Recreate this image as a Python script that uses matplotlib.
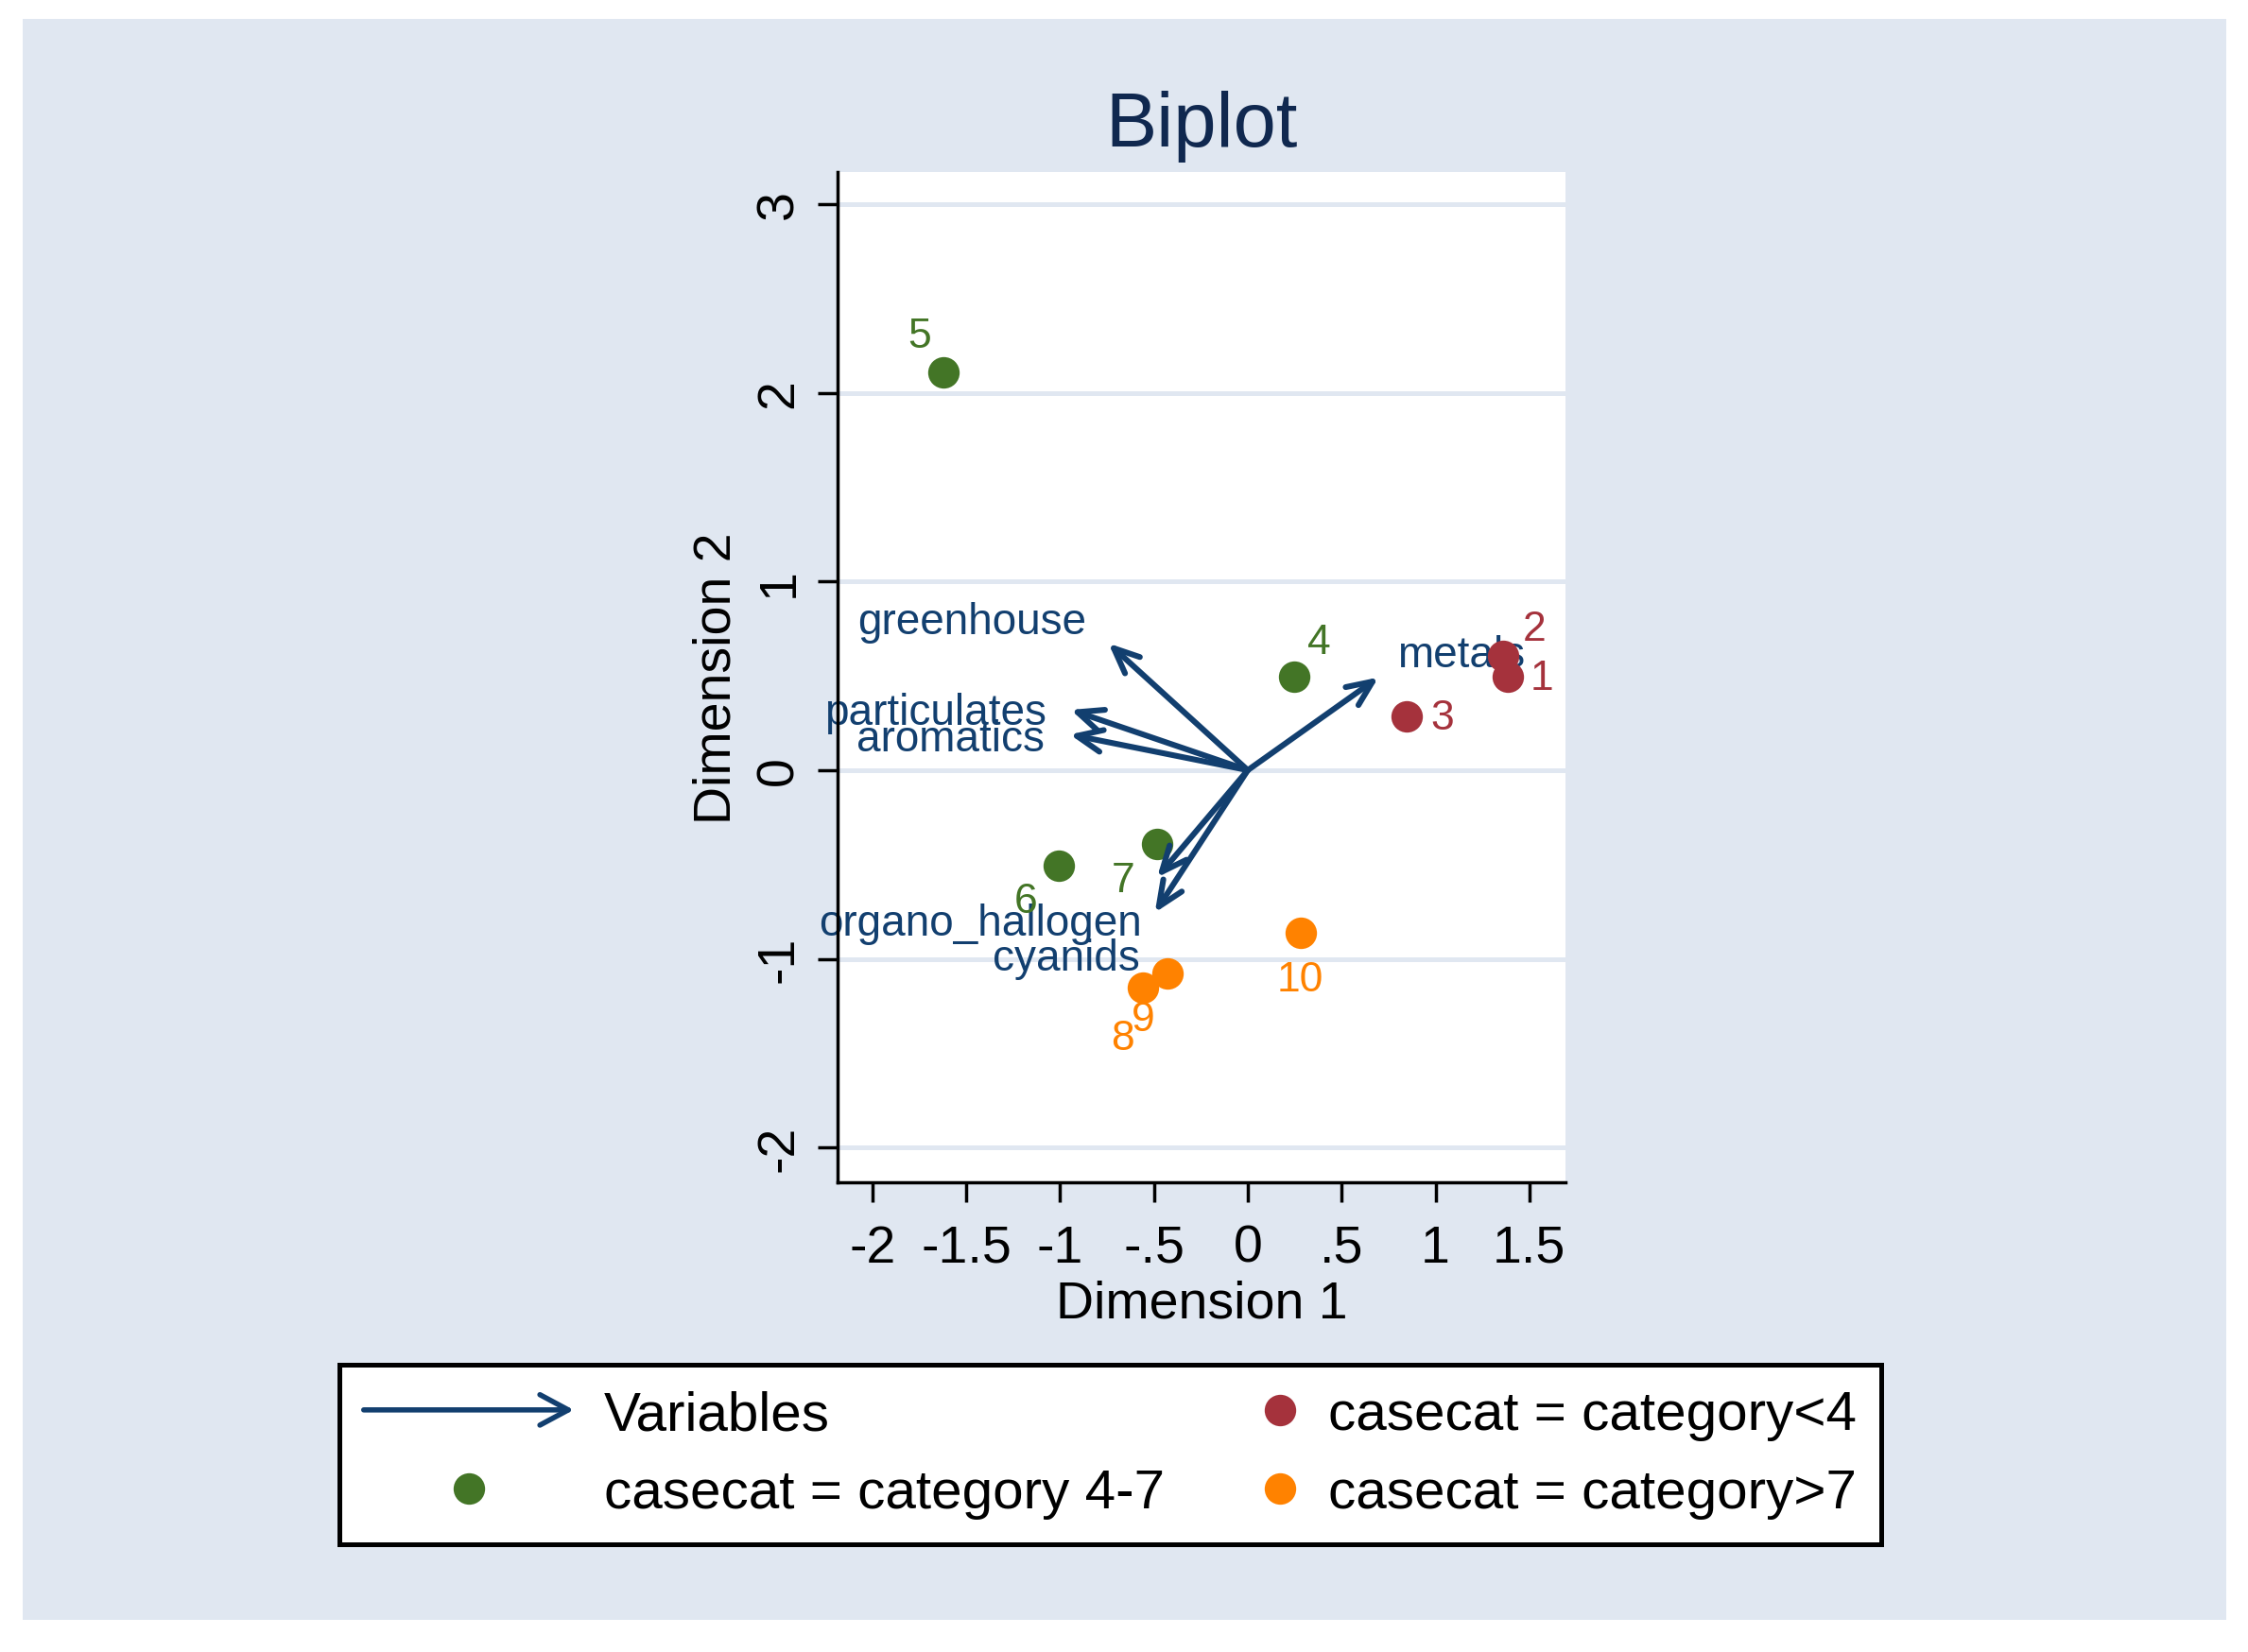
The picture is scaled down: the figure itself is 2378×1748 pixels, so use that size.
import numpy as np
import matplotlib.pyplot as plt
from matplotlib.lines import Line2D
from matplotlib.patches import FancyArrowPatch, Rectangle
from matplotlib.legend_handler import HandlerBase

plt.rcParams['font.family'] = ['Liberation Sans', 'DejaVu Sans']

# observation scores
obs_id = ['1', '2', '3', '4', '5', '6', '7', '8', '9', '10']
dim1 = [1.385, 1.36, 0.847, 0.247, -1.62, -1.007, -0.483, -0.559, -0.428, 0.28]
dim2 = [0.497, 0.605, 0.286, 0.497, 2.11, -0.506, -0.392, -1.151, -1.075, -0.861]
casecat = ['category<4'] * 3 + ['category 4-7'] * 4 + ['category>7'] * 3

# variable loadings
var_names = ['greenhouse', 'particulates', 'aromatics', 'metals',
             'organo_hallogen', 'cyanids']
load1 = [-0.742, -0.943, -0.948, 0.696, -0.483, -0.495]
load2 = [0.672, 0.32, 0.189, 0.492, -0.568, -0.755]

xticks = [-2, -1.5, -1, -0.5, 0, 0.5, 1, 1.5]
xticklabels = ['-2', '-1.5', '-1', '-.5', '0', '.5', '1', '1.5']
yticks = [-2, -1, 0, 1, 2, 3]
yticklabels = ['-2', '-1', '0', '1', '2', '3']

cat_order = ['category<4', 'category 4-7', 'category>7']

# styling
navy = '#123f6f'
bg = '#e0e7f1'
cat_colors = {'category<4': '#a5323c', 'category 4-7': '#437526',
              'category>7': '#ff8200'}
# marker label offsets (points), by observation
mlab_off = {'1': (12.8, -0.7), '2': (11.9, 10.2), '3': (13.6, -0.6),
            '4': (9.3, 13.1), '5': (-9.3, 13.7), '6': (-12.7, -13.4),
            '7': (-13, -13.8), '8': (-7.6, -19.5), '9': (-9.1, -17.6),
            '10': (0, -18)}
# arrow label offsets (points) and alignment
vlab = {'greenhouse': ((-8.6, 4.0), 'right'),
        'particulates': ((-9.4, -5.4), 'right'),
        'aromatics': ((-9.7, -6.1), 'right'),
        'metals': ((7.2, 4.3), 'left'),
        'organo_hallogen': ((-5.8, -22), 'right'),
        'cyanids': ((-5.8, -21.8), 'right')}


class HandlerArrow(HandlerBase):
    def create_artists(self, legend, orig_handle, xdescent, ydescent,
                       width, height, fontsize, trans):
        y = height / 2 - ydescent
        a = FancyArrowPatch((-xdescent, y), (width - xdescent, y),
                            arrowstyle='->,head_length=0.54,head_width=0.29',
                            mutation_scale=20, color=navy, lw=2.0,
                            shrinkA=0, shrinkB=0, transform=trans)
        return [a]


class HandlerDot(HandlerBase):
    def __init__(self, frac):
        super().__init__()
        self.frac = frac

    def create_artists(self, legend, orig_handle, xdescent, ydescent,
                       width, height, fontsize, trans):
        x = self.frac * width - xdescent
        y = height / 2 - ydescent
        d = Line2D([x], [y], ls='none', marker='o',
                   markersize=orig_handle.get_markersize(),
                   markerfacecolor=orig_handle.get_markerfacecolor(),
                   markeredgecolor='none')
        d.set_transform(trans)
        return [d]


W, H = 2378, 1749
fig = plt.figure(figsize=(W / 200, H / 200), dpi=200, facecolor='white')
fig.patches.append(Rectangle((24 / W, 1 - 1715 / H), (2355 - 24) / W,
                             (1715 - 21) / H, transform=fig.transFigure,
                             facecolor=bg, edgecolor='none', zorder=-10))

ax = fig.add_axes([886 / W, 1 - 1252 / H, (1656 - 886) / W, (1252 - 183) / H])
ax.set_facecolor('white')
ax.set_xlim(-2.185, 1.692)
ax.set_ylim(-2.184, 3.17)

for t in yticks:
    ax.axhline(t, color=bg, lw=1.8, zorder=0)

# variable labels, observations, arrows
for name, vx, vy in zip(var_names, load1, load2):
    off, ha = vlab[name]
    ax.annotate(name, xy=(vx, vy), xytext=off, textcoords='offset points',
                ha=ha, va='baseline', fontsize=16.5, color=navy, zorder=2)

x = np.array(dim1)
y = np.array(dim2)
cats = np.array(casecat)
for c in cat_order:
    m = cats == c
    ax.plot(x[m], y[m], ls='none', marker='o', markersize=12,
            markerfacecolor=cat_colors[c], markeredgecolor='none', zorder=3)

for vx, vy in zip(load1, load2):
    ax.annotate('', xy=(vx, vy), xytext=(0, 0),
                arrowprops=dict(arrowstyle='->,head_length=0.48,head_width=0.21',
                                color=navy, lw=2.2, shrinkA=0, shrinkB=0,
                                mutation_scale=20), zorder=4)

for oid, ox, oy, c in zip(obs_id, dim1, dim2, casecat):
    ax.annotate(oid, xy=(ox, oy), xytext=mlab_off[oid],
                textcoords='offset points', ha='center', va='center',
                fontsize=16, color=cat_colors[c], zorder=5)

ax.set_xticks(xticks)
ax.set_xticklabels(xticklabels)
ax.set_yticks(yticks)
ax.set_yticklabels(yticklabels, rotation=90, va='center')
ax.tick_params(axis='both', length=7.7, width=1.25, color='black',
               labelsize=20, direction='out')
ax.tick_params(axis='x', pad=8)
ax.tick_params(axis='y', pad=5)
for s in ['top', 'right']:
    ax.spines[s].set_visible(False)
for s in ['left', 'bottom']:
    ax.spines[s].set_linewidth(1.25)
    ax.spines[s].set_color('black')

ax.set_xlabel('Dimension 1', fontsize=20, labelpad=2.5)
ax.set_ylabel('Dimension 2', fontsize=20, labelpad=5)
ax.set_title('Biplot', fontsize=29.3, color='#10284f', pad=10)

# legend
h_arrow = FancyArrowPatch((0, 0), (1, 0))
h_dots = {c: Line2D([], [], ls='none', marker='o', markersize=12,
                    markerfacecolor=cat_colors[c]) for c in cat_order}
handles = [h_arrow, h_dots['category 4-7'], h_dots['category<4'],
           h_dots['category>7']]
labels = ['Variables', 'casecat = category 4-7', 'casecat = category<4',
          'casecat = category>7']
hmap = {h_arrow: HandlerArrow(), h_dots['category 4-7']: HandlerDot(0.5),
        h_dots['category<4']: HandlerDot(0.914),
        h_dots['category>7']: HandlerDot(0.914)}
leg = fig.legend(handles, labels, handler_map=hmap, ncol=2, loc='upper left',
                 bbox_to_anchor=(358.5 / W, 1 - 1445 / H),
                 bbox_transform=fig.transFigure, fontsize=21,
                 handlelength=3.81, handletextpad=0.55, columnspacing=-1.4,
                 labelspacing=0.5, borderpad=0.45, borderaxespad=0,
                 frameon=True, fancybox=False, framealpha=1,
                 edgecolor='black', facecolor='white')
leg.get_frame().set_linewidth(1.8)

fig.savefig('out.png', dpi=200, facecolor='white')
